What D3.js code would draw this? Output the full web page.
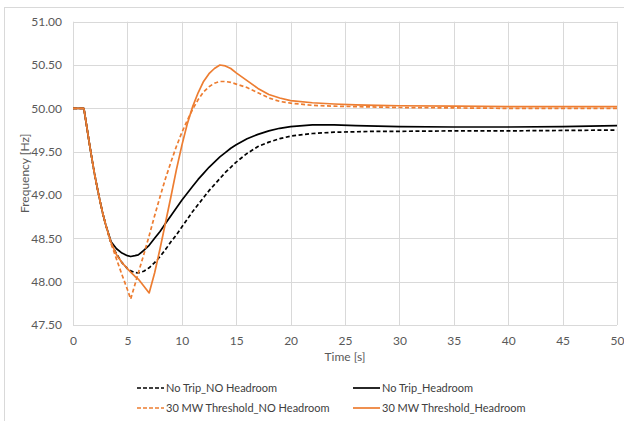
<!DOCTYPE html>
<html>
<head>
<meta charset="utf-8">
<script src="https://cdn.jsdelivr.net/npm/d3@7/dist/d3.min.js"></script>
<style>
  html, body { margin: 0; padding: 0; background: #fff; }
  svg { display: block; font-family: Lato, "Open Sans", sans-serif; }
</style>
</head>
<body>
<svg id="chart" width="624" height="421"></svg>
<script>
// Time samples (s), shared by every series
const time = [0, 1, 1.25, 1.5, 1.75, 2, 2.25, 2.5, 2.75, 3, 3.5, 4, 4.5, 5, 5.3, 5.7, 6, 6.5, 7, 7.5,
  8, 8.5, 9, 9.5, 10, 10.5, 11, 11.5, 12, 12.5, 13, 13.5, 14, 14.5, 15, 16, 17, 18, 19, 20,
  22, 24, 26, 28, 30, 35, 40, 45, 50];

// Initial drop common to all cases (t = 0 .. 3)
const commonDrop = [50.00, 50.00, 49.80, 49.60, 49.41, 49.23, 49.07, 48.92, 48.78, 48.66];

// Frequency (Hz) from t = 3.5 s onwards
const noTripNoHeadroom = [48.44, 48.32, 48.22, 48.15, 48.125, 48.105, 48.10, 48.12, 48.16, 48.22,
  48.29, 48.37, 48.46, 48.54, 48.63, 48.72, 48.81, 48.89, 48.97, 49.05, 49.12, 49.19, 49.26, 49.32,
  49.38, 49.48, 49.56, 49.61, 49.65, 49.68, 49.71, 49.725, 49.73, 49.735, 49.735, 49.74, 49.74, 49.745, 49.75];
const noTripHeadroom = [48.46, 48.38, 48.33, 48.30, 48.29, 48.30, 48.31, 48.36, 48.42, 48.50,
  48.58, 48.67, 48.76, 48.85, 48.94, 49.02, 49.10, 49.18, 49.25, 49.32, 49.38, 49.44, 49.49, 49.54,
  49.58, 49.65, 49.70, 49.74, 49.77, 49.79, 49.81, 49.81, 49.80, 49.795, 49.79, 49.785, 49.785, 49.79, 49.80];
const thresholdNoHeadroom = [48.44, 48.26, 48.08, 47.91, 47.80, 47.97, 48.10, 48.31, 48.53, 48.76,
  48.98, 49.19, 49.38, 49.56, 49.72, 49.86, 49.99, 50.10, 50.19, 50.25, 50.29, 50.31, 50.31, 50.30,
  50.28, 50.24, 50.18, 50.12, 50.08, 50.06, 50.035, 50.025, 50.02, 50.015, 50.01, 50.005, 50.00, 50.00, 50.00];
const thresholdHeadroom = [48.45, 48.31, 48.22, 48.15, 48.11, 48.06, 48.03, 47.95, 47.87, 48.10,
  48.38, 48.68, 48.98, 49.29, 49.57, 49.82, 50.02, 50.18, 50.31, 50.40, 50.46, 50.50, 50.49, 50.46,
  50.41, 50.32, 50.23, 50.16, 50.12, 50.09, 50.065, 50.05, 50.04, 50.035, 50.03, 50.025, 50.02, 50.02, 50.02];

const seriesNames = ["No Trip_NO Headroom", "No Trip_Headroom",
  "30 MW Threshold_NO Headroom", "30 MW Threshold_Headroom"];
const seriesColors = ["#000000", "#000000", "#ED7D31", "#ED7D31"];
const seriesDashed = [true, false, true, false];

const xTicks = [0, 5, 10, 15, 20, 25, 30, 35, 40, 45, 50];
const yTicks = [47.5, 48, 48.5, 49, 49.5, 50, 50.5, 51];

const seriesValues = [noTripNoHeadroom, noTripHeadroom, thresholdNoHeadroom, thresholdHeadroom]
  .map(v => commonDrop.concat(v));

const svg = d3.select("#chart");

// Chart frame
svg.append("rect")
  .attr("x", 4.5).attr("y", 7.5)
  .attr("width", 660).attr("height", 460)
  .attr("fill", "none").attr("stroke", "#d9d9d9").attr("stroke-width", 1);

const plot = { left: 73, right: 617, top: 21.7, bottom: 325 };

const x = d3.scaleLinear().domain([0, 50]).range([plot.left, plot.right]);
const y = d3.scaleLinear().domain([47.5, 51]).range([plot.bottom, plot.top]);

// Gridlines
const grid = svg.append("g");
grid.selectAll("line.h").data(yTicks).join("line")
  .attr("x1", plot.left).attr("x2", plot.right)
  .attr("y1", d => Math.round(y(d)) + 0.5).attr("y2", d => Math.round(y(d)) + 0.5)
  .attr("stroke", "#d9d9d9").attr("stroke-width", 1);
grid.selectAll("line.v").data(xTicks).join("line")
  .attr("y1", plot.top).attr("y2", plot.bottom)
  .attr("x1", d => Math.round(x(d)) + 0.5).attr("x2", d => Math.round(x(d)) + 0.5)
  .attr("stroke", "#d9d9d9").attr("stroke-width", 1);

// Axes (labels only, no tick marks)
const xAxis = svg.append("g")
  .attr("transform", `translate(0,${plot.bottom})`)
  .call(d3.axisBottom(x).tickValues(xTicks).tickSize(0).tickPadding(11).tickFormat(d3.format("d")));
const yAxis = svg.append("g")
  .attr("transform", `translate(${plot.left},0)`)
  .call(d3.axisLeft(y).tickValues(yTicks).tickSize(0).tickPadding(11).tickFormat(d3.format(".2f")));
[xAxis, yAxis].forEach(a => {
  a.select(".domain").remove();
  a.selectAll("text").attr("fill", "#595959").style("font-size", "12px")
    .style("font-family", "Lato, 'Open Sans', sans-serif");
});

// Axis titles
svg.append("text")
  .attr("x", (plot.left + plot.right) / 2).attr("y", 361)
  .attr("text-anchor", "middle").attr("fill", "#595959").style("font-size", "12px")
  .text("Time [s]");
svg.append("text")
  .attr("transform", `translate(29,${(plot.top + plot.bottom) / 2}) rotate(-90)`)
  .attr("text-anchor", "middle").attr("fill", "#595959").style("font-size", "12px")
  .text("Frequency [Hz]");

// Series lines
const line = d3.line()
  .x((d, i) => x(time[i]))
  .y(d => y(d))
  .curve(d3.curveLinear);

svg.append("g").selectAll("path").data(seriesValues).join("path")
  .attr("d", d => line(d))
  .attr("fill", "none")
  .attr("stroke", (d, i) => seriesColors[i])
  .attr("stroke-width", 1.7)
  .attr("stroke-linejoin", "round")
  .attr("stroke-dasharray", (d, i) => seriesDashed[i] ? "4,2.5" : null);

// Legend
const legendPos = [[137, 388], [353, 388], [137, 408], [353, 408]];
const legend = svg.append("g").selectAll("g").data(seriesNames).join("g")
  .attr("transform", (d, i) => `translate(${legendPos[i][0]},${legendPos[i][1]})`);
legend.append("line")
  .attr("x1", 0).attr("x2", 27).attr("y1", 0).attr("y2", 0)
  .attr("stroke", (d, i) => seriesColors[i])
  .attr("stroke-width", 1.7)
  .attr("stroke-dasharray", (d, i) => seriesDashed[i] ? "4,2" : null);
legend.append("text")
  .attr("x", 29).attr("y", 0).attr("dy", "0.35em")
  .attr("fill", "#404040").style("font-size", "11px")
  .text(d => d);
</script>
</body>
</html>
